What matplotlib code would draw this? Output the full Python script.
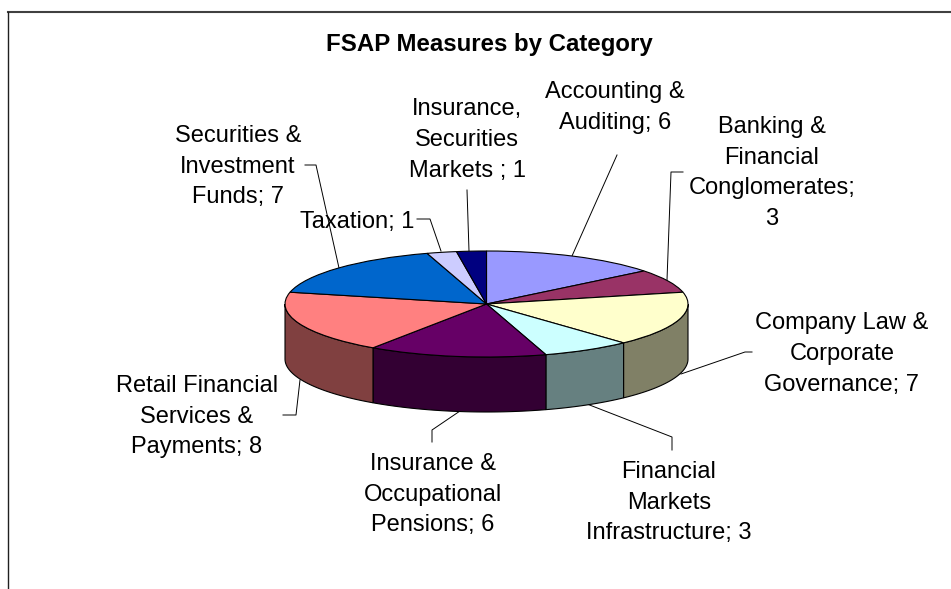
# -*- coding: utf-8 -*-
import numpy as np
import matplotlib
matplotlib.use("Agg")
import matplotlib.pyplot as plt

plt.rcParams['font.family'] = ['Liberation Sans', 'DejaVu Sans']

# clockwise from twelve o'clock
categories = ["Accounting &\nAuditing",
              "Banking &\nFinancial\nConglomerates",
              "Company Law &\nCorporate\nGovernance",
              "Financial\nMarkets\nInfrastructure",
              "Insurance &\nOccupational\nPensions",
              "Retail Financial\nServices &\nPayments",
              "Securities &\nInvestment\nFunds",
              "Taxation",
              "Insurance,\nSecurities\nMarkets "]
values = [6, 3, 7, 3, 6, 8, 7, 1, 1]
colors = ['#9999FF', '#993366', '#FFFFCC', '#CCFFFF', '#660066',
          '#FF8080', '#0066CC', '#CCCCFF', '#000080']

# where things sit on the picture, in pixels
W, H = 951, 589
cx, cy, rx, ry, depth = 486.5, 304, 201.5, 53, 55
label_pos = [(615, 107.5), (772, 173), (842, 354), (669, 503), (433, 495),
             (197, 417), (238, 167), (357, 222), (467, 140)]
leaders = [[(617, 155), (572, 256)],
           [(683, 172), (671, 172), (667, 280)],
           [(752, 352), (745, 352), (681, 374)],
           [(672, 450), (672, 437), (587, 404)],
           [(432, 442), (432, 430), (460, 411)],
           [(283, 415), (296, 415), (300, 380)],
           [(305, 165), (316, 165), (339, 268)],
           [(417, 219), (430, 219), (441, 251)],
           [(467, 190), (469, 251)]]


def px(x, y):
    return (x - cx) / rx, (cy - y) / ry


fig = plt.figure(figsize=(W / 100, H / 100), dpi=100)
ax = fig.add_axes([0, 0, 1, 1])
ax.pie(values, colors=colors, startangle=90, counterclock=False,
       wedgeprops=dict(edgecolor='black', linewidth=0.8, zorder=3))
ax.set_aspect('auto')
ax.set_xlim(px(0, 0)[0], px(W, 0)[0])
ax.set_ylim(px(0, H)[1], px(0, 0)[1])

# side wall, only the front half of the cake shows
edges = np.cumsum([0] + values) / sum(values) * 360
for i in range(len(values)):
    a0, a1 = max(edges[i], 90), min(edges[i + 1], 270)
    if a1 <= a0:
        continue
    t = np.radians(np.linspace(a0, a1, 60))
    xs = np.sin(t)
    ys = np.cos(t)
    face = np.array(matplotlib.colors.to_rgb(colors[i])) * 0.5
    ax.fill(np.r_[xs, xs[::-1]], np.r_[ys, ys[::-1] - depth / ry],
            facecolor=face, edgecolor='black', linewidth=0.8, zorder=2)

for pts in leaders:
    d = np.array([px(*p) for p in pts])
    ax.plot(d[:, 0], d[:, 1], color='black', linewidth=0.7, zorder=1)

for name, val, pos in zip(categories, values, label_pos):
    s = "{};\n{}".format(name, val) if name.startswith("Banking") else "{}; {}".format(name, val)
    x, y = px(*pos)
    ax.text(x, y, s, ha='center', va='center', ma='center', fontsize=17,
            linespacing=1.5, color='black')

x, y = px(489, 45)
ax.text(x, y, "FSAP Measures by Category", ha='center', va='center',
        fontsize=17.3, fontweight='bold')

# chart area border, the right and bottom sides are cut off
ax.plot(*zip(px(8, 12), px(W, 12)), color='#404040', linewidth=1.5, clip_on=False)
ax.plot(*zip(px(8, 12), px(8, H)), color='#202020', linewidth=1, clip_on=False)

fig.savefig("out.png", dpi=100)
